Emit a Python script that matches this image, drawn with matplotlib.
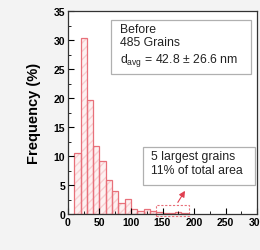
#!/usr/bin/env python3
import numpy as np
import matplotlib
matplotlib.use('Agg')
from matplotlib import pyplot as plt
from matplotlib.patches import Rectangle

matplotlib.rc('font', family=['Liberation Sans', 'DejaVu Sans'])

# grain size histogram (bin left edges in nm, frequency in %)
bin_left = [10, 20, 30, 40, 50, 60, 70, 80, 90, 100, 110, 120, 130, 140, 150, 160, 170, 180]
freq = [10.6, 30.3, 19.6, 11.8, 9.2, 5.8, 4.0, 1.9, 2.6, 0.9, 0.5, 0.8, 0.6, 0.4, 0.2, 0.1, 0.3, 0.2]
bin_width = 10

x_ticks = [0, 50, 100, 150, 200, 250, 300]
y_ticks = [0, 5, 10, 15, 20, 25, 30, 35]

fig = plt.figure(figsize=(2.6, 2.51), dpi=100, facecolor='#f3f3f3')
ax = fig.add_axes([0.2615, 0.1434, 0.727, 0.8086])
ax.set_facecolor('white')

# faint hatched fill, then red outlines on top
ax.bar(bin_left, freq, width=bin_width, align='edge', facecolor='#fdf1f1',
       edgecolor='#f9d0d3', hatch='////', linewidth=0)
ax.bar(bin_left, freq, width=bin_width, align='edge', facecolor='none',
       edgecolor='#e8707a', linewidth=0.9)

ax.set_xlim(0, 300)
ax.set_ylim(0, 35)
ax.set_xticks(x_ticks)
ax.set_yticks(y_ticks)
ax.set_xticks(np.arange(25, 300, 50), minor=True)
ax.set_yticks(np.arange(2.5, 35, 5), minor=True)
ax.tick_params(which='both', direction='in', top=False, right=False)
ax.tick_params(which='major', length=4, width=0.8, labelsize=7.5, pad=2)
ax.tick_params(which='minor', length=2, width=0.6)
for lab in ax.get_xticklabels() + ax.get_yticklabels():
    lab.set_fontweight('bold')
for sp in ax.spines.values():
    sp.set_linewidth(0.9)
    sp.set_color('#333333')

ax.set_ylabel('Frequency (%)', fontsize=10.5, fontweight='bold', labelpad=9)

# info boxes
ax.add_patch(Rectangle((68, 24.1), 222, 9.3, facecolor='white', edgecolor='#b0b0b0',
                       linewidth=0.9, zorder=3))
ax.text(82, 33.0, 'Before\n485 Grains\n$\\mathregular{d_{avg}}$ = 42.8 ± 26.6 nm',
        fontsize=8.8, va='top', ha='left', linespacing=1.2, color='#222222', zorder=4)

ax.add_patch(Rectangle((119, 5.0), 178, 6.55, facecolor='white', edgecolor='#b0b0b0',
                       linewidth=0.9, zorder=3))
ax.text(132, 11.0, '5 largest grains\n11% of total area',
        fontsize=8.8, va='top', ha='left', linespacing=1.2, color='#222222', zorder=4)

ax.add_patch(Rectangle((140, -0.4), 52, 1.9, fill=False, edgecolor='#e8707a',
                       linestyle=(0, (2, 1.5)), linewidth=0.8, clip_on=False))
ax.annotate('', xy=(188, 4.4), xytext=(172, 1.6),
            arrowprops=dict(arrowstyle='-|>,head_length=0.35,head_width=0.18',
                            color='#e04050', linewidth=0.8))

fig.savefig('out.png', dpi=100, facecolor=fig.get_facecolor())
